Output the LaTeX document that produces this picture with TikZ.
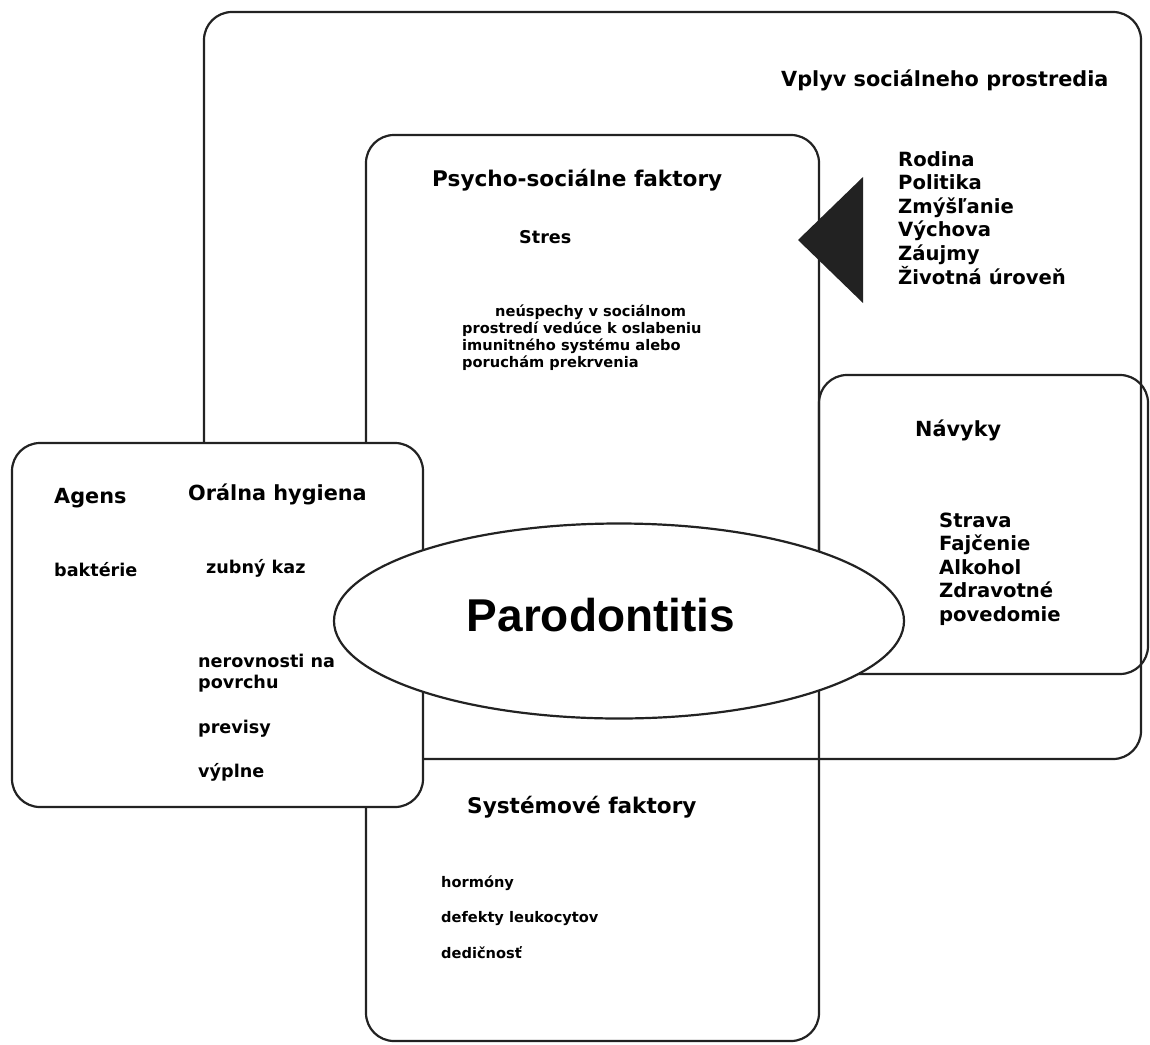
\documentclass[tikz,border=0pt]{standalone}
\usepackage{fontspec}
\setmainfont{DejaVu Sans}
\newfontfamily\parofont{Liberation Sans}
\usetikzlibrary{shapes.geometric}
\definecolor{LineGray}{HTML}{222222}
\tikzset{frame/.style={draw=LineGray,line width=2.2pt,rounded corners=28pt},
  head/.style={anchor=base west,inner sep=0pt,font=\fontsize{20.8}{24}\selectfont\bfseries},
  bighead/.style={anchor=base west,inner sep=0pt,font=\fontsize{21.6}{25}\selectfont\bfseries},
  item/.style={anchor=base west,inner sep=0pt,font=\fontsize{19.6}{23}\selectfont\bfseries},
  small/.style={anchor=base west,inner sep=0pt,font=\fontsize{17.6}{21}\selectfont\bfseries},
  tiny/.style={anchor=base west,inner sep=0pt,font=\fontsize{14.6}{17}\selectfont\bfseries}}

\begin{document}
\begin{tikzpicture}[x=1pt,y=-1pt]
\useasboundingbox (0,0) rectangle (1150,1044);
% frames, back to front
\draw[frame] (204,12) rectangle (1141,759);
\draw[frame] (366,135) rectangle (819,1041);
\draw[frame] (819,375) rectangle (1148,674);
\fill[LineGray] (798,240) -- (863,177) -- (863,303) -- cycle;
\draw[frame,fill=white] (12,443) rectangle (423,807);
\node[ellipse,draw=LineGray,line width=2.2pt,fill=white,minimum width=570pt,minimum height=195pt,inner sep=0pt] (paro) at (619,621) {};
\node[anchor=base,inner sep=0pt,font=\parofont\fontsize{46}{52}\selectfont\bfseries] (parolab) at (601,631) {Parodontitis};
% social environment
\node[head] (vplyv) at (781,86) {Vplyv sociálneho prostredia};
\foreach \t [count=\i from 0] in {Rodina,Politika,Zmýšľanie,Výchova,Záujmy,Životná úroveň}
  \node[item] (soc\i) at (898,166+23.6*\i) {\t};
% psycho-social
\node[bighead] (psycho) at (432,186) {Psycho-sociálne faktory};
\node[small] (stres) at (519,243) {Stres};
\foreach \x/\t [count=\i from 0] in {495/neúspechy v sociálnom,462/prostredí vedúce k oslabeniu,462/imunitného systému alebo,462/poruchám prekrvenia}
  \node[tiny] (neusp\i) at (\x,316+17.3*\i) {\t};
% habits
\node[head] (navyky) at (915,436) {Návyky};
\foreach \t [count=\i from 0] in {Strava,Fajčenie,Alkohol,Zdravotné,povedomie}
  \node[item] (hab\i) at (939,527+23.5*\i) {\t};
% agens and oral hygiene
\node[head] (agens) at (54,503) {Agens};
\node[head] (oral) at (188,500) {Orálna hygiena};
\node[small] (bakt) at (54,576) {baktérie};
\node[small] (kaz) at (206,573) {zubný kaz};
\node[small] (nerov) at (198,667) {nerovnosti na};
\node[small] (povrch) at (198,688) {povrchu};
\node[small] (previs) at (198,733) {previsy};
\node[small] (vypln) at (198,777) {výplne};
% systemic
\node[bighead] (system) at (467,813) {Systémové faktory};
\foreach \t [count=\i from 0] in {hormóny,defekty leukocytov,dedičnosť}
  \node[tiny] (sys\i) at (441,887+35.5*\i) {\t};
\end{tikzpicture}
\end{document}
